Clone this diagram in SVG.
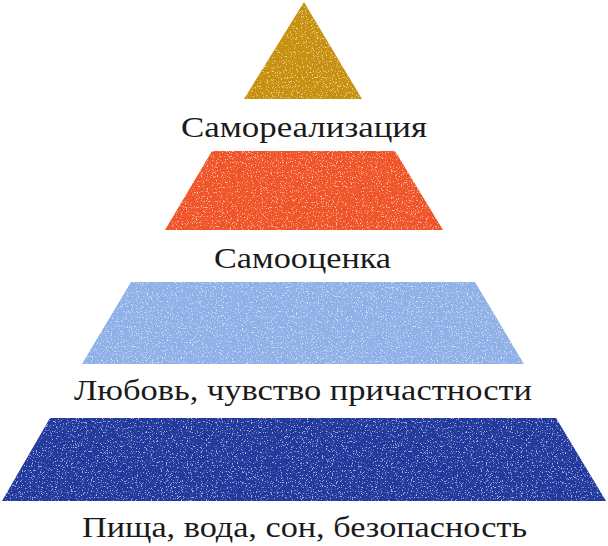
<svg xmlns="http://www.w3.org/2000/svg" width="608" height="546" viewBox="0 0 608 546">
<defs>
<filter id="grain" x="0" y="0" width="100%" height="100%" color-interpolation-filters="sRGB">
<feTurbulence type="fractalNoise" baseFrequency="0.8" numOctaves="2" seed="3" result="n"/>
<feColorMatrix in="n" type="matrix" values="0 0 0 0 1  0 0 0 0 1  0 0 0 0 1  0 0 0 9 -5.4" result="w"/>
<feComposite in="w" in2="SourceGraphic" operator="in" result="wc"/>
<feComponentTransfer in="wc" result="wf"><feFuncA type="linear" slope="0.6"/></feComponentTransfer>
<feMerge><feMergeNode in="SourceGraphic"/><feMergeNode in="wf"/></feMerge>
</filter>
</defs>
<style>
.lbl{font-family:"Liberation Serif","DejaVu Serif",serif;font-size:29px;fill:#1a1a1a;text-anchor:middle}
.layer{filter:url(#grain)}
</style>
<rect width="608" height="546" fill="#ffffff"/>
<g id="level1">
<polygon class="layer" points="304,2 362,99 244,99" fill="#C8900F"/>
<text class="lbl" x="304" y="137" textLength="246" lengthAdjust="spacingAndGlyphs">Самореализация</text>
</g>
<g id="level2">
<polygon class="layer" points="212,151 395,151 443,230 165,230" fill="#F0552A"/>
<text class="lbl" x="302.5" y="268" textLength="177" lengthAdjust="spacingAndGlyphs">Самооценка</text>
</g>
<g id="level3">
<polygon class="layer" points="131,282 475,282 524,364 82,364" fill="#8FB1E8"/>
<text class="lbl" x="303" y="400" textLength="458" lengthAdjust="spacingAndGlyphs">Любовь, чувство причастности</text>
</g>
<g id="level4">
<polygon class="layer" points="50,418 556,418 606,501 2,501" fill="#22399E"/>
<text class="lbl" x="304.5" y="537" textLength="445" lengthAdjust="spacingAndGlyphs">Пища, вода, сон, безопасность</text>
</g>
<g id="connectors"/>
</svg>
